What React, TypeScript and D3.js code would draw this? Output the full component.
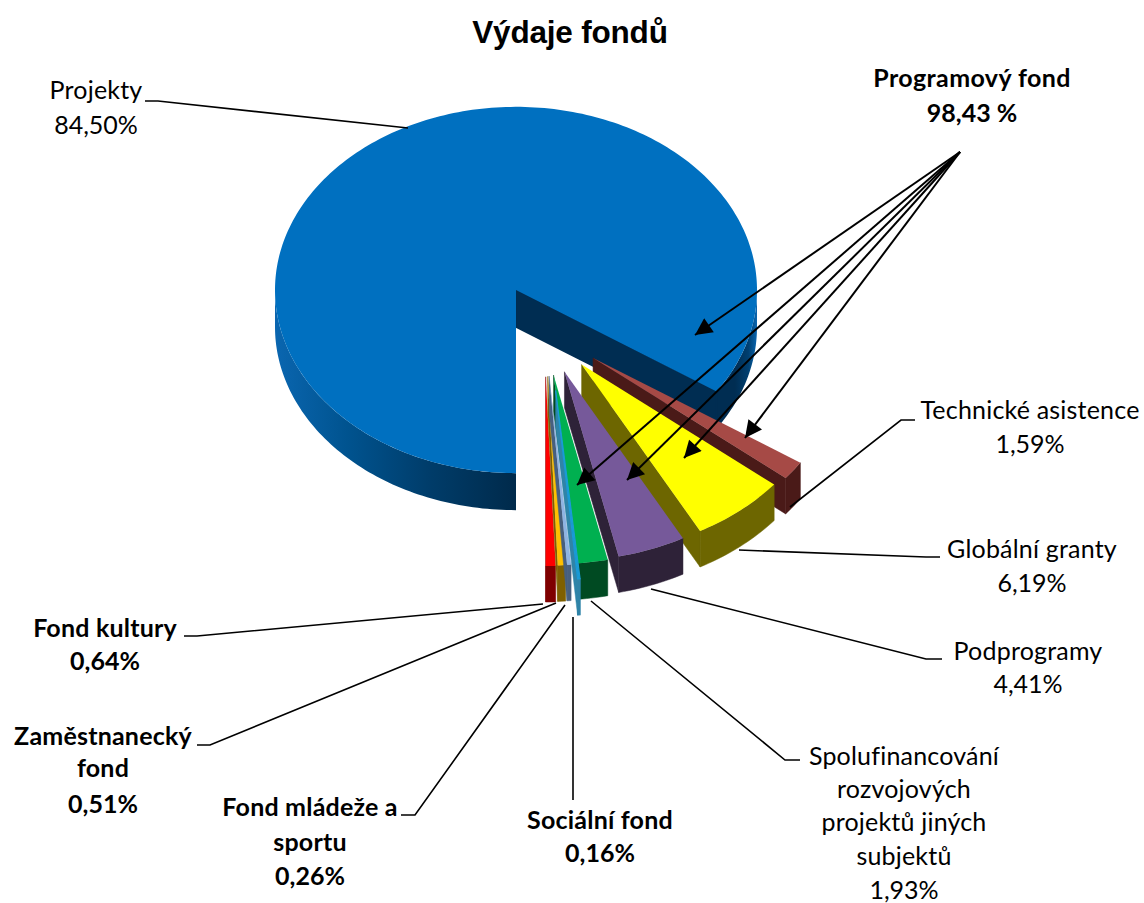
import React from "react";
import * as d3 from "d3";

const categories = ["Projekty","Technické asistence","Globální granty","Podprogramy","Spolufinancování rozvojových projektů jiných subjektů","Sociální fond","Fond mládeže a sportu","Zaměstnanecký fond","Fond kultury"];
const values = [84.5,1.59,6.19,4.41,1.93,0.16,0.26,0.51,0.64];
const topColors = ["#0070c0","#a64a46","#ffff00","#76599a","#00b050","#1a9ad6","#8eb4e3","#ffc000","#ff0000"];
const sideColors = ["#002d52","#4a1a18","#6d6600","#2e2238","#004a22","#2f84a8","#47607f","#7f6000","#7f0000"];
const drawOrder = [1,2,3,8,7,6,4,5];
const extraExplode = [0,0,0,0,0,20,0,0,0];

const titleText = "Výdaje fondů";
const labelLines = [
  ["Projekty","84,50%"],
  ["Technické asistence","1,59%"],
  ["Globální granty","6,19%"],
  ["Podprogramy","4,41%"],
  ["Spolufinancování","rozvojových","projektů jiných","subjektů","1,93%"],
  ["Sociální fond","0,16%"],
  ["Fond mládeže a","sportu","0,26%"],
  ["Zaměstnanecký","fond","0,51%"],
  ["Fond kultury","0,64%"],
];
const labelAnchors: [number, number[]][] = [
  [96,[91,126]],
  [1030,[411,445]],
  [1032,[550,584]],
  [1028,[652,685]],
  [904,[757,790,823,857,891]],
  [600,[821,854]],
  [310,[808,843,877]],
  [103,[737,769,805]],
  [105,[629,662]],
];
const boldLabel = [false,false,false,false,false,true,true,true,true];
const leaders: [number,number][][] = [
  [[145,101],[158,101],[408,128]],
  [[915,420],[901,420],[790,507]],
  [[940,557],[926,557],[739,550]],
  [[942,659],[926,659],[651,589]],
  [[800,760],[785,760],[591,601]],
  [[573,800],[573,617]],
  [[401,815],[415,815],[565,605]],
  [[197,745],[210,745],[556,603]],
  [[184,636],[197,636],[543,604]],
];
const programLabel = ["Programový fond","98,43 %"];
const arrowOrigin: [number,number] = [960,152];
const arrowTips: [number,number][] = [[695,335],[577,485],[627,480],[684,458],[745,438]];

const CX = 516, CY = 290, RX = 241, K = 0.76, DEPTH = 37;
const R_EXPL = 249, EXPL = 118, MID = 152 * Math.PI / 180, DEPTH_EXPL = 36;

const pieGen = d3.pie<number>().sort(null).startAngle(Math.PI).endAngle(3 * Math.PI);
const arcs = pieGen(values);

const proj = (c: [number,number], r: number, a: number): [number,number] =>
  [c[0] + r * Math.sin(a), c[1] - r * K * Math.cos(a)];
const line = d3.line<[number,number]>();
const arcPts = (c: [number,number], r: number, a0: number, a1: number) => {
  const n = Math.max(2, Math.ceil(Math.abs(a1 - a0) / 0.02));
  return d3.range(n + 1).map(i => proj(c, r, a0 + (a1 - a0) * i / n));
};
const down = (p: [number,number], d: number): [number,number] => [p[0], p[1] + d];

const mainCentre: [number,number] = [CX, CY];
const main = arcs[0];
const mainEnd = main.endAngle;
const mainFace = line([mainCentre, ...arcPts(mainCentre, RX, main.startAngle, mainEnd)])! + "Z";
const band = (a0: number, a1: number) => {
  const top = arcPts(mainCentre, RX, a0, a1);
  return line([...top, ...top.slice().reverse().map(p => down(p, DEPTH))])! + "Z";
};
const wallEnd = proj(mainCentre, RX, mainEnd);
const mainWall = line([mainCentre, wallEnd, down(wallEnd, DEPTH), down(mainCentre, DEPTH)])! + "Z";

const sliceShapes = (i: number) => {
  const s = arcs[i];
  const mid = (s.startAngle + s.endAngle) / 2 - 2 * Math.PI;
  const dir = MID + 0.5 * (mid - MID);
  const apex: [number,number] = proj(mainCentre, EXPL + extraExplode[i], dir);
  const a0 = s.startAngle - 2 * Math.PI, a1 = s.endAngle - 2 * Math.PI;
  const outer = arcPts(apex, R_EXPL, a0, a1);
  const face = line([apex, ...outer])! + "Z";
  const rim = line([...outer, ...outer.slice().reverse().map(p => down(p, DEPTH_EXPL))])! + "Z";
  const last = outer[outer.length - 1];
  const wall = line([apex, last, down(last, DEPTH_EXPL), down(apex, DEPTH_EXPL)])! + "Z";
  return { face, rim, wall };
};

const font = "Lato, Carlito, sans-serif";

export default function App() {
  return (
    <svg width={1144} height={903} viewBox="0 0 1144 903" style={{ position: "absolute", left: 0, top: 0, background: "#fff" }}>
      <defs>
        <linearGradient id="leftSide" gradientUnits="userSpaceOnUse" x1={275} x2={516} y1={0} y2={0}>
          <stop offset="0" stopColor="#0a66b0" />
          <stop offset="0.3" stopColor="#00538f" />
          <stop offset="0.65" stopColor="#003c69" />
          <stop offset="1" stopColor="#002a4b" />
        </linearGradient>
        <linearGradient id="rightSide" gradientUnits="userSpaceOnUse" x1={757} x2={735} y1={0} y2={0}>
          <stop offset="0" stopColor="#0a66b0" />
          <stop offset="0.4" stopColor="#003f70" />
          <stop offset="1" stopColor="#002d52" />
        </linearGradient>
        <marker id="arrowHead" viewBox="0 0 10 10" refX={10} refY={5} markerWidth={20} markerHeight={17} markerUnits="userSpaceOnUse" orient="auto">
          <path d="M0,0L10,5L0,10Z" fill="#000" />
        </marker>
      </defs>

      <text x={570} y={43} textAnchor="middle" fontFamily="'Liberation Sans', Arial, sans-serif" fontWeight="bold" fontSize={31.5} letterSpacing={-0.2}>{titleText}</text>

      <path d={band(Math.PI, 1.5 * Math.PI)} fill="url(#leftSide)" />
      <path d={band(0.5 * Math.PI, mainEnd - 2 * Math.PI)} fill="url(#rightSide)" stroke="#002d52" strokeWidth={0} />
      <path d={mainWall} fill={sideColors[0]} stroke={sideColors[0]} strokeWidth={1.5} />
      <path d={mainFace} fill={topColors[0]} />

      {drawOrder.map(i => {
        const sh = sliceShapes(i);
        const thin = values[i] < 0.2;
        return (
          <g key={categories[i]}>
            <path d={sh.wall} fill={sideColors[i]} stroke={sideColors[i]} strokeWidth={0.5} />
            <path d={sh.rim} fill={sideColors[i]} stroke={sideColors[i]} strokeWidth={thin ? 1.2 : 0.5} />
            <path d={sh.face} fill={topColors[i]} stroke={thin ? topColors[i] : "none"} strokeWidth={thin ? 1.2 : 0} />
          </g>
        );
      })}

      {leaders.map((pts, i) => (
        <path key={i} d={line(pts)!} fill="none" stroke="#000" strokeWidth={1.6} />
      ))}
      {arrowTips.map((t, i) => (
        <line key={i} x1={arrowOrigin[0]} y1={arrowOrigin[1]} x2={t[0]} y2={t[1]} stroke="#000" strokeWidth={2} markerEnd="url(#arrowHead)" />
      ))}

      <g fontFamily={font} fontSize={25} fill="#000" textAnchor="middle">
        {labelLines.map((lines, i) => (
          <g key={i} fontWeight={boldLabel[i] ? "bold" : "normal"}>
            {lines.map((t, j) => (
              <text key={j} x={labelAnchors[i][0]} y={labelAnchors[i][1][j] + 8} letterSpacing={t.endsWith("%") ? 0 : 0.2}>{t}</text>
            ))}
          </g>
        ))}
        <text x={972} y={87} fontWeight="bold" letterSpacing={0.4}>{programLabel[0]}</text>
        <text x={972} y={122} fontWeight="bold">{programLabel[1]}</text>
      </g>
    </svg>
  );
}
